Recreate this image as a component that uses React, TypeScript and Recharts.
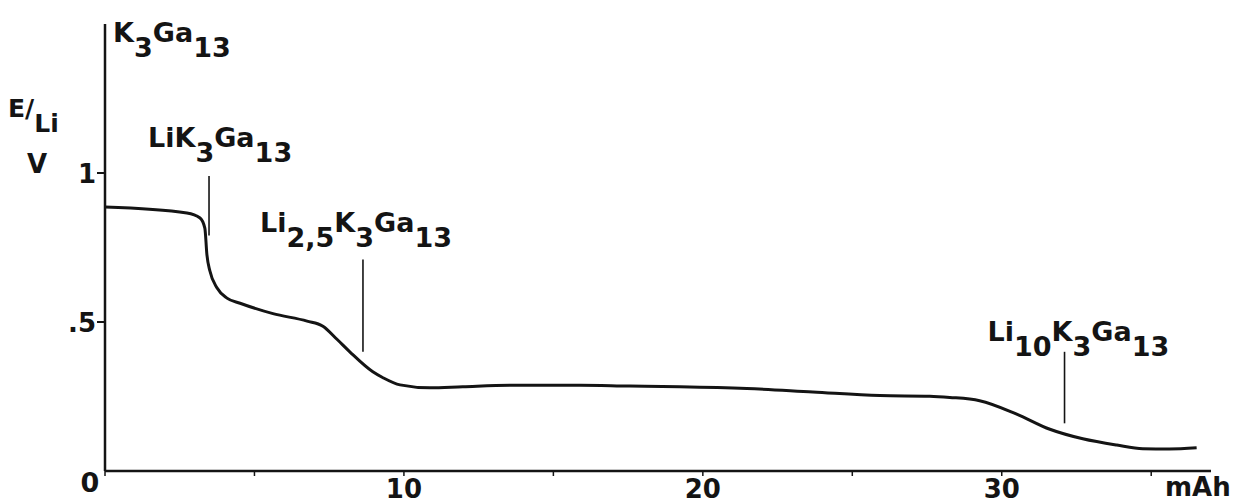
import React from 'react';
import { Line, LineChart, ReferenceLine, XAxis, YAxis } from 'recharts';

// discharge curve (mAh vs E/Li in V)
const capacity = [
  0, 2.74, 3.18, 3.34, 3.41, 3.51, 3.75, 4.08, 4.52, 5.62, 6.76, 7.29, 7.76, 8.19,
  8.96, 9.3, 9.87, 10.87, 11.97, 13.65, 15.89, 17.56, 19.23, 21.47, 23.68, 25.92,
  27.59, 28.26, 29.26, 30.5, 31.61, 32.71, 33.85, 34.72, 35.6, 36.52,
];
const potential = [
  0.886, 0.866, 0.849, 0.815, 0.725, 0.671, 0.614, 0.58, 0.563, 0.528, 0.503, 0.486,
  0.442, 0.4, 0.333, 0.313, 0.289, 0.279, 0.283, 0.288, 0.288, 0.285, 0.283, 0.277,
  0.265, 0.253, 0.251, 0.247, 0.236, 0.191, 0.14, 0.108, 0.087, 0.075, 0.074, 0.078,
];

// phase markers
const phaseCapacity = [3.48, 8.63, 32.1];
const phaseTop = [0.99, 0.71, 0.4];
const phaseBottom = [0.79, 0.4, 0.16];
const phaseFormula = ['LiK_3Ga_13', 'Li_2,5K_3Ga_13', 'Li_10K_3Ga_13'];
const startFormula = 'K_3Ga_13';

const xTicks = [0, 5, 10, 15, 20, 25, 30, 35];
const yTicks = [0.5, 1];

const curve = capacity.map((c, i) => ({ capacity: c, potential: potential[i] }));

const INK = '#141414';
const FONT = 'DejaVu Sans';

const Formula = ({ x, y, f, size = 27 }: { x: number; y: number; f: string; size?: number }) => {
  const parts = f.split(/(_[\d,]+)/).filter(Boolean);
  const drop = Math.round(size * 0.56);
  let low = false;
  return (
    <text x={x} y={y} fontSize={size} fontFamily={FONT} fontWeight="bold" fill={INK}>
      {parts.map((p, i) => {
        const isSub = p.startsWith('_');
        const dy = isSub && !low ? drop : !isSub && low ? -drop : 0;
        low = isSub;
        return (
          <tspan key={i} dy={dy}>
            {isSub ? p.slice(1) : p}
          </tspan>
        );
      })}
    </text>
  );
};

// offsets of each formula from the top of its marker line
const labelOffset = [
  [-61, -29],
  [-103, -27],
  [-77, -11],
];

const XTick = (props: any) => {
  const { x, y, payload } = props;
  const v = payload.value;
  if (v === 0) {
    return (
      <text x={x - 15} y={y + 14} textAnchor="middle" fontSize={27} fontFamily={FONT} fontWeight="bold" fill={INK}>
        0
      </text>
    );
  }
  if (v % 10 !== 0) return null;
  return (
    <text x={x} y={y + 20} textAnchor="middle" fontSize={26} fontFamily={FONT} fontWeight="bold" fill={INK}>
      {v}
    </text>
  );
};

const YTick = (props: any) => {
  const { x, y, payload } = props;
  const label = payload.value === 1 ? '1' : '.5';
  return (
    <text x={x + 1} y={y + 10} textAnchor="end" fontSize={26} fontFamily={FONT} fontWeight="bold" fill={INK}>
      {label}
    </text>
  );
};

const YLabel = (props: any) => {
  const vb = props.viewBox || { x: 0, y: 24, width: 105 };
  const top = vb.y;
  const axisX = vb.x + vb.width;
  return (
    <g>
      <Formula x={axisX + 8} y={top + 18} f={startFormula} />
      <text x={vb.x + 8} y={top + 93} fontSize={25} fontFamily={FONT} fontWeight="bold" fill={INK}>
        E/
        <tspan dy={15}>Li</tspan>
      </text>
      <text x={vb.x + 27} y={top + 149} fontSize={26} fontFamily={FONT} fontWeight="bold" fill={INK}>
        V
      </text>
    </g>
  );
};

const XLabel = (props: any) => {
  const vb = props.viewBox || { x: 105, y: 471, width: 1106 };
  return (
    <text x={vb.x + vb.width - 46} y={vb.y + 25} fontSize={26} fontFamily={FONT} fontWeight="bold" fill={INK}>
      mAh
    </text>
  );
};

function GaliumChart() {
  return (
    <LineChart width={1238} height={504} data={curve} margin={{ top: 24, right: 27, bottom: 0, left: 0 }}>
      <XAxis
        dataKey="capacity"
        type="number"
        domain={[0, 37]}
        ticks={xTicks}
        allowDataOverflow
        height={33}
        tickSize={5}
        axisLine={{ stroke: INK, strokeWidth: 2.5 }}
        tickLine={{ stroke: INK, strokeWidth: 1.5 }}
        tick={<XTick />}
        label={{ content: (p: any) => <XLabel {...p} /> }}
      />
      <YAxis
        type="number"
        domain={[0, 1.5]}
        ticks={yTicks}
        allowDataOverflow
        width={105}
        tickSize={8}
        axisLine={{ stroke: INK, strokeWidth: 2.5 }}
        tickLine={{ stroke: INK, strokeWidth: 2 }}
        tick={<YTick />}
        label={{ content: (p: any) => <YLabel {...p} /> }}
      />
      <Line
        type="monotone"
        dataKey="potential"
        stroke={INK}
        strokeWidth={3}
        dot={false}
        isAnimationActive={false}
      />
      {phaseCapacity.map((c, i) => (
        <ReferenceLine
          key={i}
          segment={[
            { x: c, y: phaseBottom[i] },
            { x: c, y: phaseTop[i] },
          ]}
          stroke={INK}
          strokeWidth={1.6}
          ifOverflow="visible"
          label={{
            content: (p: any) => {
              const vb = p.viewBox || { x: 0, y: 0 };
              return <Formula x={vb.x + labelOffset[i][0]} y={vb.y + labelOffset[i][1]} f={phaseFormula[i]} />;
            },
          }}
        />
      ))}
    </LineChart>
  );
}

export default function App() {
  return (
    <div style={{ position: 'absolute', left: 0, top: 0, width: 1238, height: 504, background: '#fff' }}>
      <GaliumChart />
    </div>
  );
}
